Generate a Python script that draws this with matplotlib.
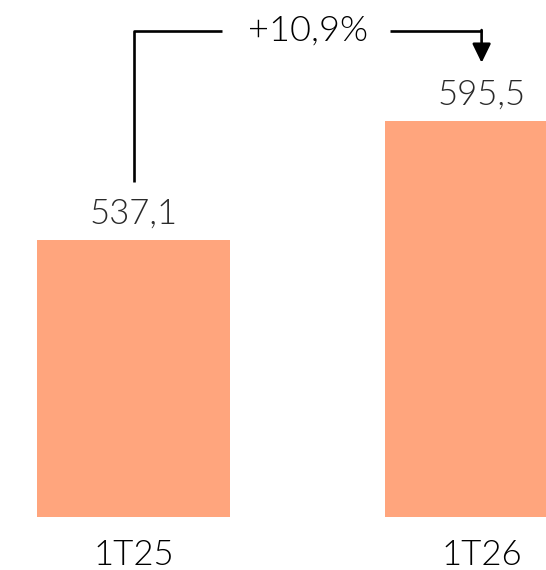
import matplotlib
matplotlib.use("Agg")
import matplotlib.pyplot as plt

# Quarterly totals, in the comma-decimal style used on the labels.
periods = ["1T25", "1T26"]
values = [537.1, 595.5]
growth_label = "+10,9%"

BAR_COLOUR = "#FFA57D"
VALUE_COLOUR = "#2a2a2a"
TEXT_COLOUR = "#000000"
FONT = "Lato"

fig = plt.figure(figsize=(5.46, 5.70), dpi=100)
ax = fig.add_axes([0, 53 / 570, 1, 517 / 570])

x = list(range(len(periods)))
ax.bar(x, values, width=0.555, color=BAR_COLOUR)
ax.set_xlim(-0.3836, 1.185)
ax.set_ylim(401.2, 654.9)
ax.axis("off")

for xi, v in zip(x, values):
    ax.text(xi, v + 13, f"{v:.1f}".replace(".", ","), ha="center",
            va="center", fontsize=25, color=VALUE_COLOUR,
            family=FONT, fontweight=300)

for xi, p in zip(x, periods):
    fig.text((133.5 + 348 * xi) / 546, 15 / 570, p, ha="center",
             va="center", fontsize=25, color=TEXT_COLOUR,
             family=FONT, fontweight=300)

# Bracket from the first bar's label over to the second, with the change
# written in the gap of the top rail.
top = 639.7
lw = 1.9
ax.plot([0, 0, 0.254], [values[0] + 28.5, top, top],
        color="black", lw=lw, solid_capstyle="butt", clip_on=False)
ax.plot([0.737, 1], [top, top], color="black", lw=lw,
        solid_capstyle="butt", clip_on=False)
ax.annotate("", xy=(1, values[1] + 28.6), xytext=(1, top + 0.45),
            arrowprops=dict(arrowstyle="-|>,head_length=1.15,head_width=0.56",
                            color="black", lw=lw, shrinkA=0, shrinkB=0,
                            mutation_scale=10),
            annotation_clip=False)
ax.text(0.5, top, growth_label, ha="center", va="center", fontsize=26,
        color=TEXT_COLOUR, family=FONT, fontweight=300)

fig.savefig("out.png", dpi=100)
